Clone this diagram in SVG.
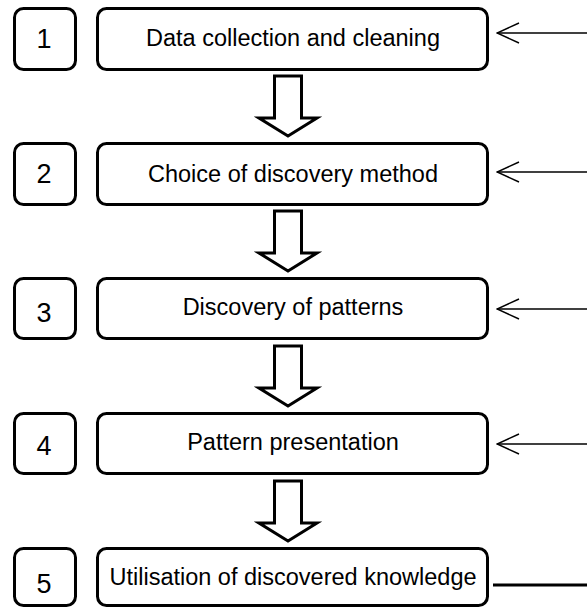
<svg xmlns="http://www.w3.org/2000/svg" width="587" height="610" viewBox="0 0 587 610">
  <style>
    .box { fill: #ffffff; stroke: #000000; stroke-width: 3; }
    .num { font-family: "Liberation Sans", Arial, sans-serif; font-size: 27px; text-anchor: middle; fill: #000000; }
    .lbl { font-family: "Liberation Sans", Arial, sans-serif; font-size: 23.5px; text-anchor: middle; fill: #000000; }
    .flow { fill: #ffffff; stroke: #000000; stroke-width: 3; stroke-linejoin: miter; }
    .feed { fill: none; stroke: #000000; stroke-width: 1.5; }
    .out { fill: none; stroke: #000000; stroke-width: 3; }
  </style>
  <defs>
    <marker id="openHead" viewBox="0 0 24 22" refX="23" refY="11" markerWidth="24" markerHeight="22" markerUnits="userSpaceOnUse" orient="auto">
      <path d="M1,1 L23,11 L1,21" fill="none" stroke="#000" stroke-width="1.5"/>
    </marker>
    <path id="bigArrow" d="M274.5,0 H301.5 V42 H317 L288,60 L259,42 H274.5 Z"/>
  </defs>

  <g id="step1">
    <rect class="box" x="14.5" y="8.5" width="61" height="61" rx="9"/>
    <text class="num" x="44" y="48">1</text>
    <rect class="box" x="97.5" y="8.5" width="390" height="61" rx="9"/>
    <text class="lbl" x="293" y="46">Data collection and cleaning</text>
  </g>

  <g id="step2">
    <rect class="box" x="14.5" y="143.5" width="61" height="61" rx="9"/>
    <text class="num" x="44" y="183">2</text>
    <rect class="box" x="97.5" y="143.5" width="390" height="61" rx="9"/>
    <text class="lbl" x="293" y="182">Choice of discovery method</text>
  </g>

  <g id="step3">
    <rect class="box" x="14.5" y="278.5" width="61" height="60" rx="9"/>
    <text class="num" x="44" y="322">3</text>
    <rect class="box" x="97.5" y="278.5" width="390" height="60" rx="9"/>
    <text class="lbl" x="293" y="315">Discovery of patterns</text>
  </g>

  <g id="step4">
    <rect class="box" x="14.5" y="413.5" width="61" height="60" rx="9"/>
    <text class="num" x="44" y="455">4</text>
    <rect class="box" x="97.5" y="413.5" width="390" height="60" rx="9"/>
    <text class="lbl" x="293" y="450">Pattern presentation</text>
  </g>

  <g id="step5">
    <rect class="box" x="14.5" y="548.5" width="61" height="57" rx="9"/>
    <text class="num" x="44" y="593">5</text>
    <rect class="box" x="97.5" y="548.5" width="390" height="57" rx="9"/>
    <text class="lbl" x="293" y="585">Utilisation of discovered knowledge</text>
  </g>

  <g id="connectors">
    <use href="#bigArrow" class="flow" transform="translate(0,76)"/>
    <use href="#bigArrow" class="flow" transform="translate(0,211)"/>
    <use href="#bigArrow" class="flow" transform="translate(0,346)"/>
    <use href="#bigArrow" class="flow" transform="translate(0,481)"/>

    <line class="feed" x1="587" y1="33" x2="497" y2="33" marker-end="url(#openHead)"/>
    <line class="feed" x1="587" y1="172" x2="497" y2="172" marker-end="url(#openHead)"/>
    <line class="feed" x1="587" y1="309" x2="497" y2="309" marker-end="url(#openHead)"/>
    <line class="feed" x1="587" y1="444" x2="497" y2="444" marker-end="url(#openHead)"/>

    <line class="out" x1="493" y1="585" x2="587" y2="585"/>
  </g>
</svg>
